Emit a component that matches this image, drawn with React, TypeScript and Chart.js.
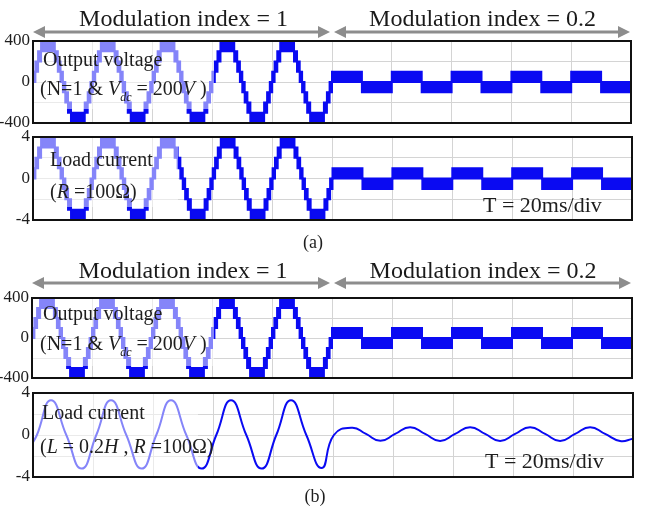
import React, { useEffect, useRef } from "react";
import { Chart, registerables } from "chart.js";

Chart.register(...registerables);

const W = 648;
const H = 510;
const BLUE = "#0a0af2";
const FONT = '"Liberation Serif", "Times New Roman", serif';

// ---- time axis (ms), one grid division = 20 ms ----
const timeMinMs = 0;
const timeMaxMs = 200;
const timeDivMs = 20;

// cycles of the 50 Hz fundamental
const cycleStartsM1 = [0, 20, 40, 60, 80];
const cycleStartsM02 = [100, 120, 140, 160, 180];

// ---- PWM staircase, modulation index = 1 (one period, band between adjacent levels) ----
const stepTimesM1 = [0, 0.8, 1.7, 2.7, 7.3, 8.3, 9.2, 10, 10.8, 11.7, 12.7, 17.3, 18.3, 19.2];
const voltUpperM1 = [100, 200, 300, 400, 300, 200, 100, 0, -100, -200, -300, -200, -100, 0];
const voltLowerM1 = [0, 100, 200, 300, 200, 100, 0, -100, -200, -300, -400, -300, -200, -100];
const currUpperM1 = [1, 2, 3, 4, 3, 2, 1, 0, -1, -2, -3, -2, -1, 0];
const currLowerM1 = [0, 1, 2, 3, 2, 1, 0, -1, -2, -3, -4, -3, -2, -1];

// ---- modulation index = 0.2 (one period) ----
const stepTimesM02 = [0, 10];
const voltUpperM02 = [100, 0];
const voltLowerM02 = [0, -100];
const currUpperM02 = [1, 0];
const currLowerM02 = [0, -1];

// ---- RL load current (b) ----
const rlTimesMs = [
  0, 1.3, 6.0, 11.1, 16.2, 21.1, 26.0, 31.1, 36.2, 41.1, 46.0, 51.1, 56.2, 61.1, 66.0, 71.1,
  76.2, 81.1, 86.0, 91.1, 96.2, 100.3, 106.4, 111.0, 115.8, 120.7, 125.7, 130.7, 135.7, 140.7,
  145.7, 150.7, 155.7, 160.7, 165.7, 170.7, 175.7, 180.7, 185.7, 190.7, 195.7, 200,
];
const rlCurrentA = [
  -0.7, 0, 3.3, 0, -3.2, 0, 3.3, 0, -3.2, 0, 3.3, 0, -3.2, 0, 3.3, 0, -3.2, 0, 3.3, 0, -3.15, 0,
  0.7, 0.1, -0.55, 0.1, 0.75, 0.1, -0.57, 0.1, 0.75, 0.1, -0.57, 0.1, 0.75, 0.1, -0.57, 0.1, 0.75,
  0.1, -0.57, -0.35,
];

// ---- axis tick labels ----
const voltRange = [-400, 400];
const voltStep = 200;
const voltLabels = [-400, 0, 400];
const currRange = [-4, 4];
const currStep = 2;
const currLabels = [-4, 0, 4];

type Pt = { x: number; y: number };

function buildBand(levelsM1: number[], levelsM02: number[]): Pt[] {
  const pts: Pt[] = [];
  cycleStartsM1.forEach((s) => stepTimesM1.forEach((t, i) => pts.push({ x: s + t, y: levelsM1[i] })));
  cycleStartsM02.forEach((s) => stepTimesM02.forEach((t, i) => pts.push({ x: s + t, y: levelsM02[i] })));
  pts.push({ x: timeMaxMs, y: levelsM02[levelsM02.length - 1] });
  return pts;
}

type Seg = { t: string; i?: boolean; sub?: boolean };
type TextItem = { x: number; y: number; size: number; segs: Seg[]; align?: "left" | "center" };

function drawRich(ctx: CanvasRenderingContext2D, item: TextItem) {
  const fontOf = (s: Seg) => {
    const sz = s.sub ? item.size * 0.6 : item.size;
    return `${s.i ? "italic " : ""}${sz}px ${FONT}`;
  };
  let total = 0;
  for (const s of item.segs) {
    ctx.font = fontOf(s);
    total += ctx.measureText(s.t).width;
  }
  let cx = item.align === "center" ? item.x - total / 2 : item.x;
  ctx.textAlign = "left";
  ctx.textBaseline = "alphabetic";
  for (const s of item.segs) {
    ctx.font = fontOf(s);
    ctx.fillText(s.t, cx, s.sub ? item.y + item.size * 0.28 : item.y);
    cx += ctx.measureText(s.t).width;
  }
}

function drawArrow(ctx: CanvasRenderingContext2D, x1: number, x2: number, y: number) {
  const hl = 12;
  const hw = 6;
  ctx.strokeStyle = "#8d8d8d";
  ctx.fillStyle = "#8d8d8d";
  ctx.lineWidth = 3;
  ctx.beginPath();
  ctx.moveTo(x1 + hl - 2, y);
  ctx.lineTo(x2 - hl + 2, y);
  ctx.stroke();
  ctx.beginPath();
  ctx.moveTo(x1, y);
  ctx.lineTo(x1 + hl, y - hw);
  ctx.lineTo(x1 + hl, y + hw);
  ctx.closePath();
  ctx.fill();
  ctx.beginPath();
  ctx.moveTo(x2, y);
  ctx.lineTo(x2 - hl, y - hw);
  ctx.lineTo(x2 - hl, y + hw);
  ctx.closePath();
  ctx.fill();
}

type PanelCfg = {
  area: { left: number; top: number; right: number; bottom: number };
  kind: "band" | "line";
  upper?: Pt[];
  lower?: Pt[];
  line?: Pt[];
  range: number[];
  step: number;
  labels: number[];
  box: { right: number; bottom: number };
  texts: TextItem[];
  arrows?: { y: number; titleY: number };
};

const outputTexts = (y1: number, y2: number): TextItem[] => [
  { x: 43, y: y1, size: 20, segs: [{ t: "Output voltage" }] },
  {
    x: 40,
    y: y2,
    size: 20,
    segs: [{ t: "(N=1 & " }, { t: "V", i: true }, { t: "dc", i: true, sub: true }, { t: " = 200" }, { t: "V", i: true }, { t: " )" }],
  },
];

function makeCfgs(): PanelCfg[] {
  const vU = buildBand(voltUpperM1, voltUpperM02);
  const vL = buildBand(voltLowerM1, voltLowerM02);
  const iU = buildBand(currUpperM1, currUpperM02);
  const iL = buildBand(currLowerM1, currLowerM02);
  const rl = rlTimesMs.map((t, i) => ({ x: t, y: rlCurrentA[i] }));
  return [
    {
      area: { left: 33, top: 41, right: 631, bottom: 123 },
      kind: "band",
      upper: vU,
      lower: vL,
      range: voltRange,
      step: voltStep,
      labels: voltLabels,
      box: { right: 214, bottom: 109 },
      texts: outputTexts(66, 95),
      arrows: { y: 32, titleY: 26 },
    },
    {
      area: { left: 33, top: 137, right: 632, bottom: 220 },
      kind: "band",
      upper: iU,
      lower: iL,
      range: currRange,
      step: currStep,
      labels: currLabels,
      box: { right: 178, bottom: 207 },
      texts: [
        { x: 50, y: 166, size: 20, segs: [{ t: "Load current" }] },
        { x: 50, y: 198, size: 20, segs: [{ t: "(" }, { t: "R", i: true }, { t: " =100Ω)" }] },
        { x: 483, y: 212, size: 22, segs: [{ t: "T = 20ms/div" }] },
        { x: 313, y: 248, size: 18, segs: [{ t: "(a)" }], align: "center" },
      ],
    },
    {
      area: { left: 32, top: 298, right: 632, bottom: 378 },
      kind: "band",
      upper: vU,
      lower: vL,
      range: voltRange,
      step: voltStep,
      labels: voltLabels,
      box: { right: 214, bottom: 366 },
      texts: outputTexts(320, 350),
      arrows: { y: 283, titleY: 278 },
    },
    {
      area: { left: 33, top: 393, right: 633, bottom: 477 },
      kind: "line",
      line: rl,
      range: currRange,
      step: currStep,
      labels: currLabels,
      box: { right: 198, bottom: 477 },
      texts: [
        { x: 42, y: 419, size: 20, segs: [{ t: "Load current" }] },
        {
          x: 40,
          y: 453,
          size: 20,
          segs: [{ t: "(" }, { t: "L", i: true }, { t: " = 0.2" }, { t: "H", i: true }, { t: " , " }, { t: "R", i: true }, { t: " =100Ω)" }],
        },
        { x: 485, y: 468, size: 22, segs: [{ t: "T = 20ms/div" }] },
        { x: 315, y: 502, size: 18, segs: [{ t: "(b)" }], align: "center" },
      ],
    },
  ];
}

function createChart(canvas: HTMLCanvasElement, cfg: PanelCfg) {
  const a = cfg.area;
  const datasets: any[] =
    cfg.kind === "band"
      ? [
          { data: cfg.upper, stepped: "before", borderColor: BLUE, borderWidth: 2, pointRadius: 0, fill: false },
          {
            data: cfg.lower,
            stepped: "before",
            borderColor: BLUE,
            borderWidth: 2,
            pointRadius: 0,
            fill: "-1",
            backgroundColor: BLUE,
          },
        ]
      : [
          {
            data: cfg.line,
            borderColor: BLUE,
            borderWidth: 2,
            pointRadius: 0,
            fill: false,
            tension: 0.5,
          },
        ];

  const overlay = {
    id: "overlay" + Math.random().toString(36).slice(2),
    afterDatasetsDraw(chart: any) {
      const ctx: CanvasRenderingContext2D = chart.ctx;
      const ca = chart.chartArea;
      ctx.save();
      ctx.fillStyle = "rgba(255,255,255,0.5)";
      ctx.fillRect(ca.left, ca.top, cfg.box.right - ca.left, cfg.box.bottom - ca.top);
      ctx.strokeStyle = "#111";
      ctx.lineWidth = 2;
      ctx.strokeRect(ca.left, ca.top, ca.right - ca.left, ca.bottom - ca.top);
      ctx.fillStyle = "#1e1e1e";
      cfg.texts.forEach((t) => drawRich(ctx, t));
      if (cfg.arrows) {
        const mid = chart.scales.x.getPixelForValue(100);
        drawArrow(ctx, ca.left, mid - 2, cfg.arrows.y);
        drawArrow(ctx, mid + 2, ca.right - 1, cfg.arrows.y);
        ctx.fillStyle = "#1a1a1a";
        drawRich(ctx, { x: (ca.left + mid) / 2 + 1, y: cfg.arrows.titleY, size: 24, segs: [{ t: "Modulation index = 1" }], align: "center" });
        drawRich(ctx, { x: (mid + ca.right) / 2 + 1, y: cfg.arrows.titleY, size: 24, segs: [{ t: "Modulation index = 0.2" }], align: "center" });
      }
      ctx.restore();
    },
  };

  return new Chart(canvas, {
    type: "line",
    data: { datasets },
    plugins: [overlay],
    options: {
      animation: false,
      responsive: false,
      devicePixelRatio: 1,
      events: [],
      layout: { padding: { left: 0, top: a.top, right: W - a.right, bottom: H - a.bottom } },
      plugins: { legend: { display: false }, tooltip: { enabled: false }, title: { display: false } },
      scales: {
        x: {
          type: "linear",
          min: timeMinMs,
          max: timeMaxMs,
          ticks: { display: false, stepSize: timeDivMs, autoSkip: false },
          grid: { color: "#d4d4d4", drawTicks: false, lineWidth: 1 },
          border: { display: false },
          afterFit: (s: any) => {
            s.height = 0;
          },
        },
        y: {
          type: "linear",
          min: cfg.range[0],
          max: cfg.range[1],
          ticks: {
            stepSize: cfg.step,
            autoSkip: false,
            padding: 3,
            color: "#1e1e1e",
            font: { family: FONT, size: 17 },
            callback: (v: any) => (cfg.labels.includes(Number(v)) ? String(v) : ""),
          },
          grid: { color: "#d4d4d4", drawTicks: false, lineWidth: 1 },
          border: { display: false },
          afterFit: (s: any) => {
            s.width = a.left;
          },
        },
      },
    } as any,
  });
}

export default function App() {
  const refs = [useRef<HTMLCanvasElement>(null), useRef<HTMLCanvasElement>(null), useRef<HTMLCanvasElement>(null), useRef<HTMLCanvasElement>(null)];

  useEffect(() => {
    const cfgs = makeCfgs();
    const charts = cfgs.map((cfg, i) => createChart(refs[i].current as HTMLCanvasElement, cfg));
    return () => charts.forEach((c) => c.destroy());
  }, []);

  return (
    <div style={{ position: "fixed", left: 0, top: 0, width: W, height: H, background: "#fff", overflow: "hidden" }}>
      {refs.map((r, i) => (
        <canvas key={i} ref={r} width={W} height={H} style={{ position: "absolute", left: 0, top: 0, width: W, height: H }} />
      ))}
    </div>
  );
}
